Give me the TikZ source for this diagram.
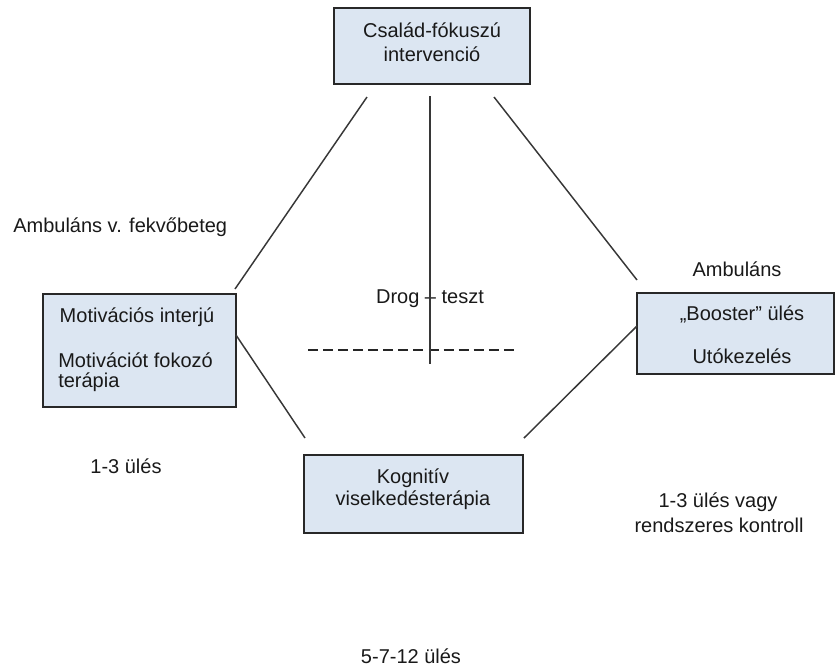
\documentclass[tikz,border=0pt]{standalone}
\usepackage{fontspec}
\setmainfont{Liberation Sans}
\usetikzlibrary{fit}
\definecolor{boxfill}{RGB}{220,230,242}
\definecolor{boxline}{RGB}{40,40,40}
\definecolor{conline}{RGB}{55,55,55}
\tikzset{
  box/.style={draw=boxline, line width=1.1pt, fill=boxfill, inner sep=0pt},
  txt/.style={font=\fontsize{15}{18}\selectfont, inner sep=0pt, anchor=base, text=black!90},
  con/.style={draw=conline, line width=1.1pt},
  dashline/.style={draw=black!85, line width=0.9pt, dash pattern=on 7.5pt off 3.8pt}
}
\begin{document}
\begin{tikzpicture}[x=0.75pt,y=-0.75pt]
\useasboundingbox (0,0) rectangle (835,669);
% boxes
\node[box, fit={(334,8) (530,84)}] (top) {};
\node[box, fit={(43,294) (236,407)}] (left) {};
\node[box, fit={(637,293) (834,374)}] (right) {};
\node[box, fit={(304,455) (523,533)}] (bottom) {};
% box texts
\node[txt] (t1) at (432,37) {Család-fókuszú};
\node[txt] (t2) at (432,61) {intervenció};
\node[txt] (l1) at (137,322) {Motivációs interjú};
\node[txt, anchor=base west] (l2) at (58,367) {Motivációt fokozó};
\node[txt, anchor=base west] (l3) at (58,387) {terápia};
\node[txt] (r1) at (742,320) {„Booster” ülés};
\node[txt] (r2) at (742,363) {Utókezelés};
\node[txt] (b1) at (413,483) {Kognitív};
\node[txt] (b2) at (413,505) {viselkedésterápia};
% free labels
\node[txt, anchor=base west] (amb1) at (13,232) {Ambuláns v. fekvőbeteg};
\node[txt] (amb2) at (737,276) {Ambuláns};
\node[txt] (s1) at (126,473) {1-3 ülés};
\node[txt] (s2) at (718,507) {1-3 ülés vagy};
\node[txt] (s3) at (719,532) {rendszeres kontroll};
\node[txt] (s4) at (411,663) {5-7-12 ülés};
\node[txt] (drog) at (430,303) {Drog – teszt};
% connector end points
\coordinate (a1) at (367,97);
\coordinate (a2) at (235,289);
\coordinate (c1) at (494,97);
\coordinate (c2) at (637,280);
\coordinate (d1) at (236,335);
\coordinate (d2) at (305,438);
\coordinate (e1) at (637,326);
\coordinate (e2) at (524,438);
\coordinate (v1) at (430,96);
\coordinate (v2) at (430,364);
\coordinate (h1) at (308,350);
\coordinate (h2) at (518,350);
% connectors
\draw[con] (a1) -- (a2);
\draw[con] (c1) -- (c2);
\draw[con] (d1) -- (d2);
\draw[con] (e1) -- (e2);
\draw[dashline] (h1) -- (h2);
\draw[con] (v1) -- (v2);
\end{tikzpicture}
\end{document}
